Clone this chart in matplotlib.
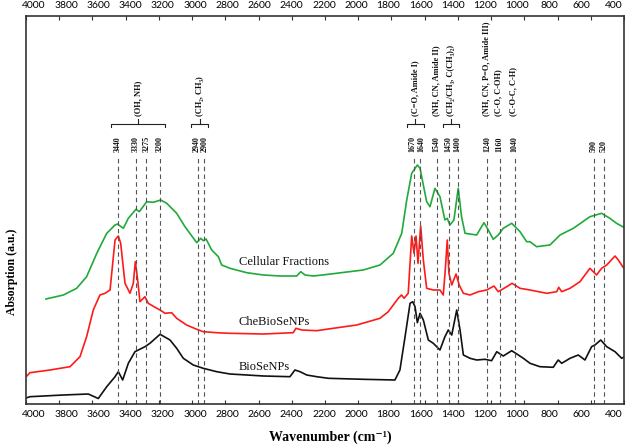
import matplotlib
matplotlib.use("Agg")
import matplotlib.pyplot as plt
import numpy as np

SERIF = ["Liberation Serif", "DejaVu Serif"]
SANS = ["Lato", "DejaVu Sans"]

# ---- data: (wavenumber cm-1, absorption a.u.) ----
bio_senps = [(4000, 0.06), (3976, 0.073), (3775, 0.09), (3625, 0.10), (3565, 0.055), (3514, 0.173),
             (3464, 0.273), (3444, 0.323), (3418, 0.24), (3384, 0.407), (3344, 0.523), (3284, 0.573),
             (3254, 0.607), (3193, 0.697), (3133, 0.64), (3093, 0.557), (3053, 0.457), (2993, 0.39),
             (2933, 0.357), (2852, 0.323), (2772, 0.30), (2671, 0.29), (2571, 0.28), (2411, 0.273),
             (2381, 0.34), (2350, 0.323), (2310, 0.29), (2250, 0.273), (2180, 0.257), (1970, 0.247),
             (1779, 0.24), (1749, 0.34), (1718, 0.673), (1688, 1.007), (1672, 1.023), (1658, 0.973),
             (1644, 0.813), (1628, 0.907), (1608, 0.84), (1578, 0.64), (1548, 0.607), (1508, 0.54),
             (1478, 0.673), (1458, 0.74), (1437, 0.69), (1407, 0.94), (1387, 0.74), (1367, 0.49),
             (1327, 0.457), (1287, 0.44), (1237, 0.447), (1197, 0.433), (1166, 0.523), (1127, 0.48),
             (1076, 0.533), (1036, 0.49), (1006, 0.457), (966, 0.407), (906, 0.373), (826, 0.367),
             (796, 0.44), (775, 0.407), (725, 0.457), (675, 0.49), (635, 0.44), (595, 0.573),
             (575, 0.59), (540, 0.64), (504, 0.573), (454, 0.523), (414, 0.457), (400, 0.47)]

che_bio_senps = [(3995, 0.28), (3976, 0.313), (3856, 0.34), (3735, 0.373), (3675, 0.473), (3635, 0.673),
                 (3595, 0.94), (3555, 1.09), (3524, 1.107), (3494, 1.14), (3464, 1.64), (3444, 1.68),
                 (3430, 1.607), (3404, 1.207), (3374, 1.107), (3354, 1.207), (3342, 1.423), (3330, 1.273),
                 (3314, 1.023), (3284, 1.073), (3264, 1.007), (3223, 0.967), (3193, 0.94), (3163, 0.907),
                 (3123, 0.913), (3093, 0.857), (3033, 0.79), (2972, 0.747), (2933, 0.723), (2852, 0.713),
                 (2772, 0.707), (2571, 0.70), (2391, 0.713), (2375, 0.757), (2340, 0.74), (2250, 0.733),
                 (2180, 0.75), (2009, 0.79), (1869, 0.857), (1819, 0.923), (1759, 1.057), (1739, 1.09),
                 (1724, 1.057), (1699, 1.107), (1678, 1.68), (1664, 1.507), (1652, 1.68), (1640, 1.407),
                 (1624, 1.78), (1608, 1.44), (1588, 1.157), (1548, 1.14), (1508, 1.14), (1488, 1.09),
                 (1476, 1.34), (1464, 1.64), (1454, 1.307), (1437, 1.19), (1411, 1.30), (1392, 1.19),
                 (1367, 1.107), (1327, 1.09), (1277, 1.123), (1227, 1.14), (1183, 1.18), (1157, 1.123),
                 (1106, 1.173), (1074, 1.207), (1026, 1.157), (966, 1.14), (865, 1.107), (805, 1.123),
                 (793, 1.167), (775, 1.123), (725, 1.157), (665, 1.223), (605, 1.357), (565, 1.29),
                 (535, 1.357), (504, 1.39), (454, 1.48), (434, 1.44), (408, 1.373), (400, 1.36)]

cellular = [(3880, 1.05), (3775, 1.09), (3695, 1.157), (3635, 1.273), (3574, 1.507), (3514, 1.707),
            (3464, 1.79), (3450, 1.80), (3414, 1.757), (3384, 1.857), (3338, 1.947), (3318, 1.923),
            (3273, 2.023), (3234, 2.017), (3189, 2.04), (3153, 2.007), (3093, 1.907), (3043, 1.773),
            (2972, 1.613), (2948, 1.657), (2933, 1.633), (2916, 1.65), (2882, 1.54), (2842, 1.473),
            (2822, 1.39), (2772, 1.357), (2671, 1.313), (2571, 1.29), (2471, 1.28), (2370, 1.28),
            (2346, 1.323), (2320, 1.29), (2270, 1.28), (2180, 1.297), (1970, 1.34), (1869, 1.39),
            (1789, 1.507), (1738, 1.707), (1708, 2.04), (1678, 2.307), (1644, 2.39), (1628, 2.357),
            (1612, 2.223), (1588, 2.023), (1568, 1.973), (1538, 2.157), (1508, 2.073), (1478, 1.84),
            (1464, 1.857), (1448, 1.79), (1424, 1.84), (1398, 2.157), (1378, 1.873), (1357, 1.707),
            (1287, 1.69), (1243, 1.813), (1217, 1.74), (1187, 1.647), (1157, 1.69), (1127, 1.757),
            (1076, 1.807), (1026, 1.723), (986, 1.623), (966, 1.623), (926, 1.573), (846, 1.59),
            (785, 1.69), (705, 1.757), (605, 1.873), (535, 1.907), (485, 1.857), (445, 1.807),
            (408, 1.773), (400, 1.77)]

series_names = ["Cellular Fractions", "CheBioSeNPs", "BioSeNPs"]
series_colors = ["#1faa3a", "#ff1a1a", "#111111"]
series_label_y = [1.42, 0.823, 0.373]

# peak marker lines (drawn position) and their labels
peak_pos = [3449, 3338, 3275, 3193, 2967, 2930, 1664, 1628, 1527, 1456, 1402, 1225, 1148, 1057, 583, 520]
peak_labels = ["3440", "3330", "3275", "3200", "2940", "2900", "1670", "1640", "1540", "1450", "1400",
               "1240", "1160", "1040", "590", "520"]
# label x positions (close pairs sit slightly apart)
peak_label_pos = [3449, 3338, 3275, 3193, 2975, 2925, 1672, 1622, 1527, 1456, 1402, 1225, 1148, 1057,
                  583, 520]

group_labels = ["(OH, NH)", "(CH\u2082, CH\u2083)", "(C=O, Amide I)", "(NH, CN, Amide II)",
                "(CH\u2082/CH\u2083, C(CH\u2083)\u2082)", "(NH, CN, P=O, Amide III)", "(C-O, C-OH)",
                "(C-O-C, C-H)"]
group_center = [3326, 2953, 1658, 1530, 1441, 1230, 1155, 1065]
group_bracket = [(3488, 3163), (3007, 2904), (1706, 1604), None, (1490, 1393), None, None, None]

tick_values = list(range(4000, 399, -200))

# ---- figure ----
fig = plt.figure(figsize=(6.25, 4.47), dpi=100)
ax = fig.add_axes([26 / 625, 43 / 447, 598 / 625, 388 / 447])
ax.set_xlim(4000, 400)
ax.set_ylim(0, 3.88)

for data, name, col, ly in zip([cellular, che_bio_senps, bio_senps], series_names, series_colors, series_label_y):
    wn, ab = zip(*data)
    ax.plot(wn, ab, color=col, lw=1.2)
    ax.text(2718, ly, name, family=SERIF, fontsize=9, ha="left", va="center", color="#111111")

# dashed peak lines and labels
ax.vlines(peak_pos, 0, 2.46, colors="#555555", linestyles=(0, (4, 3)), lw=0.8)
for p, lab in zip(peak_label_pos, peak_labels):
    ax.text(p, 2.52, lab, rotation=90, ha="center", va="bottom", family=SERIF,
            fontsize=5.8, fontweight="bold", color="#111111")

for lab, xc, br in zip(group_labels, group_center, group_bracket):
    if br is not None:
        x1, x2 = br
        ax.plot([x1, x1, x2, x2], [2.765, 2.80, 2.80, 2.765], color="#222222", lw=0.8)
        ax.plot([xc, xc], [2.80, 2.85], color="#222222", lw=0.8)
    ax.text(xc, 2.88, lab, rotation=90, ha="center", va="bottom", family=SERIF,
            fontsize=6, fontweight="bold", color="#111111")

# ticks: marks at true positions, labels at slightly offset positions (as in source)
ax.xaxis.remove_overlapping_locs = False
ax.set_xticks(tick_values)
ax.set_xticklabels([])
label_pos = [3952 - (4000 - v) * 0.97 for v in tick_values]
ax.set_xticks(label_pos, minor=True)
ax.set_xticklabels([str(v) for v in tick_values], minor=True, family=SANS, fontsize=7.5)
ax.tick_params(axis="x", which="major", direction="in", length=3, width=0.8, top=True, bottom=True,
               labelbottom=False, labeltop=False, color="#333333")
ax.tick_params(axis="x", which="minor", length=0, top=True, bottom=True, labelbottom=True,
               labeltop=True, pad=4)
ax.set_yticks([])
for s in ax.spines.values():
    s.set_color("#333333")
    s.set_linewidth(1.2)

fig.text(330 / 625, 1 - 437 / 447, "Wavenumber (cm\u207b\u00b9)", family=SERIF, fontsize=10,
         fontweight="bold", ha="center", va="center")
fig.text(12 / 625, 1 - 272 / 447, "Absorption (a.u.)", family=SERIF, fontsize=8.5,
         fontweight="bold", ha="center", va="center", rotation=90)

fig.savefig("out.png", dpi=100)
